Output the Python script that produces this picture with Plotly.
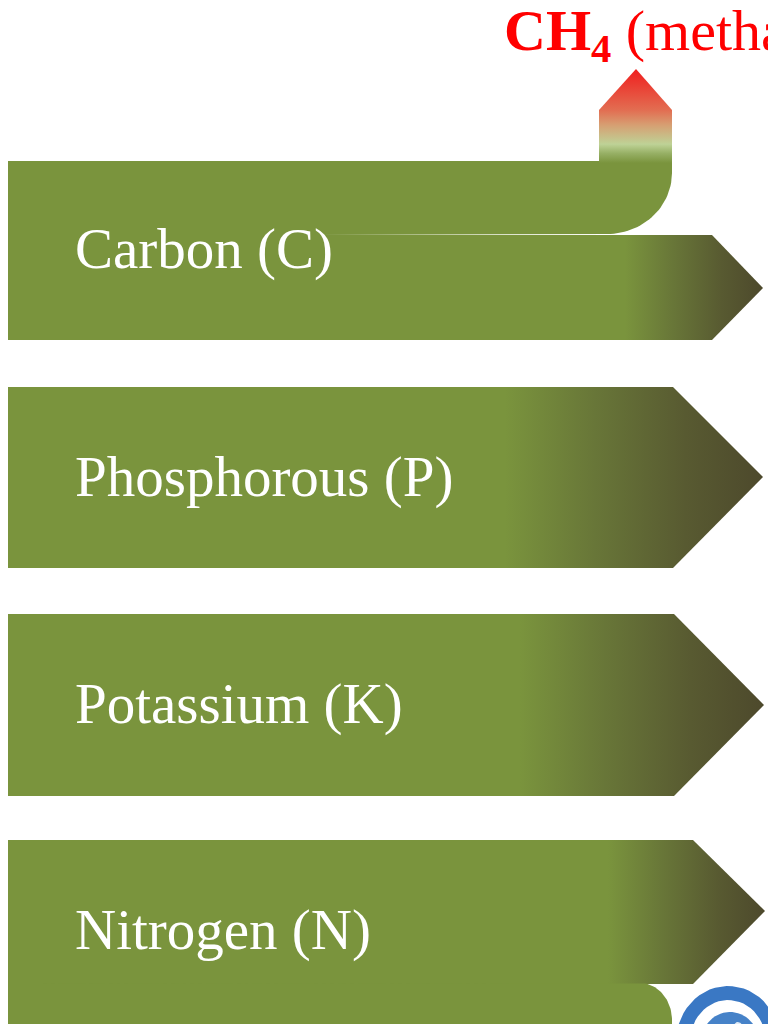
import numpy as np
import plotly.graph_objects as go

# ---- content ----
categories = ["Carbon (C)", "Phosphorous (P)", "Potassium (K)", "Nitrogen (N)"]
label_y = [249, 477, 704, 930]
title_text = "<b>CH<sub>4</sub></b> (methane)"

GREEN = "rgb(122,148,61)"
DARK = "rgb(77,73,44)"
W, H = 768, 1024

fig = go.Figure()


def poly(xs, ys, color=None, grad=None):
    kw = dict(x=list(xs) + [xs[0]], y=list(ys) + [ys[0]], mode="lines", fill="toself",
              line=dict(width=0), hoverinfo="skip", showlegend=False)
    if grad is not None:
        kw["fillgradient"] = grad
    else:
        kw["fillcolor"] = color
    fig.add_trace(go.Scatter(**kw))


def hgrad(start, stop):
    return dict(type="horizontal", start=start, stop=stop,
                colorscale=[[0, GREEN], [0.35, "rgb(104,118,56)"], [0.7, "rgb(88,90,49)"], [1, DARK]])


def arc(cx, cy, rx, ry, a0, a1, n=30):
    t = np.radians(np.linspace(a0, a1, n))
    return list(cx + rx * np.cos(t)), list(cy - ry * np.sin(t))

# Carbon: upper band with rounded arm
ax, ay = arc(607, 173, 65, 61, 0, -90)
poly([8, 672, 672] + ax + [8], [161, 161, 173] + ay + [236], color=GREEN)
# Carbon arrow
poly([8, 712, 763, 712, 8], [235, 235, 288, 340, 340], grad=hgrad(625, 763))
# methane arm (vertical gradient)
poly([599, 599, 636, 672, 672], [163, 110, 69, 110, 163],
     grad=dict(type="vertical", start=163, stop=69,
               colorscale=[[0, GREEN], [0.1, "rgb(150,175,100)"], [0.2, "rgb(190,210,150)"],
                           [0.4, "rgb(214,160,115)"], [0.56, "rgb(226,110,82)"], [1, "rgb(240,30,30)"]]))

# Phosphorous
poly([8, 673, 763, 673, 8], [387, 387, 477, 568, 568], grad=hgrad(505, 763))
# Potassium
poly([8, 674, 764, 674, 8], [614, 614, 705, 796, 796], grad=hgrad(520, 764))
# Nitrogen arrow
poly([8, 693, 765, 693, 8], [840, 840, 911, 984, 984], grad=hgrad(608, 765))
# Nitrogen lower band with rounded corner
bx, by = arc(640, 1020, 32, 37, 90, 0)
poly([8] + bx + [672, 8], [983] + by + [1030, 1030], color=GREEN)

# logo (partial, bottom-right)
ox, oy = arc(728, 1042, 52, 56, 15, 200)
ix, iy = arc(728, 1042, 38, 42, 200, 15)
poly(ox + ix, oy + iy, color="rgb(58,120,196)")
gx, gy = arc(730, 1040, 28, 28, 0, 360, 60)
poly(gx, gy, color="rgb(70,130,200)")
for cx, cy, r in [(722, 1030, 6), (738, 1026, 4), (735, 1040, 5)]:
    px, py = arc(cx, cy, r, r, 0, 360, 20)
    poly(px, py, color="rgb(225,235,245)")

for name, yy in zip(categories, label_y):
    fig.add_annotation(x=73, y=yy, text=name, showarrow=False, xanchor="left", yanchor="middle",
                       font=dict(family="Liberation Serif", size=57, color="white"))

fig.add_annotation(x=502, y=34, text=title_text, showarrow=False, xanchor="left", yanchor="middle",
                   font=dict(family="Liberation Serif", size=58, color="rgb(255,0,0)"))

fig.update_layout(width=W, height=H, margin=dict(l=0, r=0, t=0, b=0),
                  paper_bgcolor="white", plot_bgcolor="white",
                  xaxis=dict(range=[0, W], visible=False, fixedrange=True),
                  yaxis=dict(range=[H, 0], visible=False, fixedrange=True))
fig.write_html("out.html", config={"displayModeBar": False},
               post_script="document.body.style.margin='0';document.body.style.overflow='hidden';")
